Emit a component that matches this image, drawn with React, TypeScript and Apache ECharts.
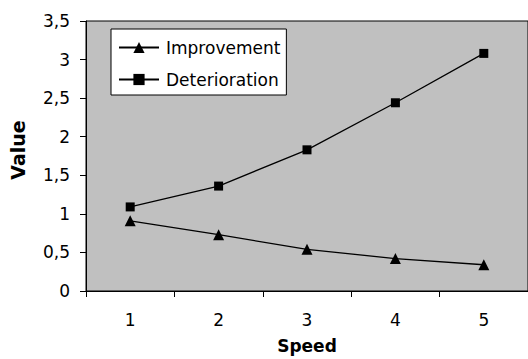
import React, { useEffect, useRef } from "react";
import * as echarts from "echarts";

const categories = ["1", "2", "3", "4", "5"];
const improvement = [0.91, 0.73, 0.54, 0.42, 0.34];
const deterioration = [1.09, 1.36, 1.83, 2.44, 3.08];
const seriesNames = ["Improvement", "Deterioration"];
const xAxisName = "Speed";
const yAxisName = "Value";

const FONT = "DejaVu Sans";

export default function App() {
  const ref = useRef<HTMLDivElement>(null);
  useEffect(() => {
    if (!ref.current) return;
    const chart = echarts.init(ref.current, null, { renderer: "svg" });
    chart.setOption({
      animation: false,
      textStyle: { fontFamily: FONT, color: "#000" },
      grid: {
        left: 86,
        top: 21,
        width: 449,
        height: 270,
        show: true,
        backgroundColor: "#c0c0c0",
        borderColor: "#000",
        borderWidth: 1,
      },
      legend: {
        orient: "vertical",
        left: 111,
        top: 29,
        backgroundColor: "#fff",
        borderColor: "#000",
        borderWidth: 1,
        padding: [10, 6, 7, 7],
        itemGap: 15,
        itemWidth: 40,
        itemHeight: 14,
        textStyle: { fontFamily: FONT, fontSize: 17, color: "#000", padding: [0, 0, 0, 2] },
        data: seriesNames,
      },
      graphic: [
        {
          type: "text",
          x: 18,
          y: 150,
          rotation: Math.PI / 2,
          style: {
            text: yAxisName,
            fontFamily: FONT,
            fontSize: 19,
            fontWeight: "bold",
            fill: "#000",
            textAlign: "center",
            textVerticalAlign: "middle",
          },
        },
      ],
      xAxis: {
        type: "category",
        data: categories,
        boundaryGap: true,
        name: xAxisName,
        nameLocation: "middle",
        nameGap: 46,
        nameTextStyle: { fontFamily: FONT, fontSize: 17, fontWeight: "bold", color: "#000" },
        axisLine: { lineStyle: { color: "#000", width: 1 } },
        axisTick: { show: true, length: 6, interval: 0, alignWithLabel: false, lineStyle: { color: "#000" } },
        axisLabel: { fontFamily: FONT, fontSize: 17, color: "#000", margin: 20 },
        splitLine: { show: false },
      },
      yAxis: {
        type: "value",
        min: 0,
        max: 3.5,
        interval: 0.5,
        axisLine: { show: true, lineStyle: { color: "#000", width: 1 } },
        axisTick: { show: true, length: 6, lineStyle: { color: "#000" } },
        axisLabel: {
          fontFamily: FONT,
          fontSize: 17,
          color: "#000",
          margin: 16,
          formatter: (v: number) => String(v).replace(".", ","),
        },
        splitLine: { show: false },
      },
      series: [
        {
          name: seriesNames[0],
          type: "line",
          data: improvement,
          symbol: "triangle",
          symbolSize: 11,
          itemStyle: { color: "#000" },
          lineStyle: { color: "#000", width: 1.3 },
        },
        {
          name: seriesNames[1],
          type: "line",
          data: deterioration,
          symbol: "rect",
          symbolSize: 9,
          itemStyle: { color: "#000" },
          lineStyle: { color: "#000", width: 1.3 },
        },
      ],
    });
    return () => chart.dispose();
  }, []);
  return <div ref={ref} style={{ width: 528, height: 359, position: "absolute", left: 0, top: 0 }} />;
}
